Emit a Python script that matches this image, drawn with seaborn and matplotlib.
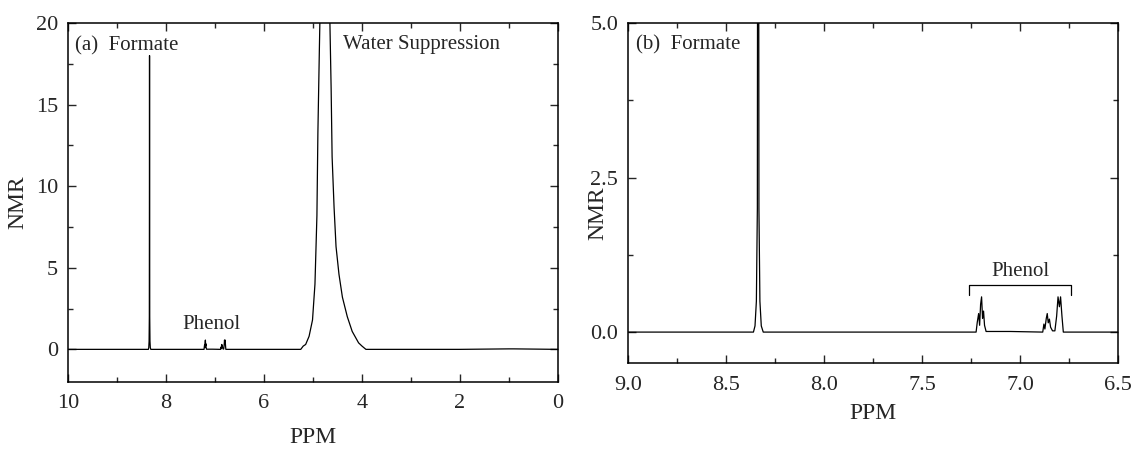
import matplotlib
matplotlib.use("Agg")
import matplotlib.pyplot as plt
import seaborn as sns
import pandas as pd
from matplotlib.ticker import MultipleLocator

# 1H NMR spectrum (ppm, intensity)
ppm = [10.0, 8.40, 8.36, 8.352, 8.345, 8.340, 8.336, 8.332, 8.327, 8.320, 8.31,
       7.40, 7.224, 7.218, 7.211, 7.206, 7.201, 7.196, 7.191, 7.186, 7.181, 7.173,
       7.05, 6.884, 6.878, 6.873, 6.866, 6.861, 6.856, 6.850, 6.844, 6.834, 6.822,
       6.813, 6.806, 6.799, 6.793, 6.786, 6.779, 6.60,
       5.25, 5.20, 5.15, 5.08, 5.01, 4.96, 4.92, 4.90, 4.87, 4.86, 4.76,
       4.655, 4.63, 4.61, 4.57, 4.53, 4.47, 4.40, 4.30, 4.20, 4.07, 4.00, 3.92,
       2.0, 1.0, 0.9, 0.0]
intensity = [0.0, 0.0, 0.0, 0.1, 0.5, 2.0, 18.0, 2.0, 0.5, 0.1, 0.0,
             0.0, 0.0, 0.16, 0.30, 0.11, 0.45, 0.57, 0.22, 0.34, 0.11, 0.01,
             0.01, 0.0, 0.13, 0.05, 0.22, 0.30, 0.15, 0.21, 0.08, 0.02, 0.02,
             0.26, 0.57, 0.41, 0.57, 0.26, 0.0, 0.0,
             0.0, 0.2, 0.3, 0.8, 1.8, 4.0, 8.2, 13.3, 18.4, 20.0, 45.0,
             20.0, 16.0, 11.8, 8.7, 6.3, 4.6, 3.2, 2.0, 1.1, 0.4, 0.2, 0.0,
             0.0, 0.03, 0.03, 0.0]

phenol_span = [7.26, 6.74]    # bracket ends in panel (b)
phenol_levels = [0.76, 0.60]  # bracket top, bracket tip

spec = pd.DataFrame({"ppm": ppm, "nmr": intensity})

sns.set_style("ticks")
plt.rcParams["font.family"] = ["Liberation Serif", "DejaVu Serif"]
plt.rcParams["xtick.direction"] = "in"
plt.rcParams["ytick.direction"] = "in"

fig = plt.figure(figsize=(11.32, 4.58), dpi=100)
W, H = 1132, 458
ax1 = fig.add_axes([68 / W, 1 - 382 / H, 490 / W, 359 / H])
ax2 = fig.add_axes([628 / W, 1 - 363 / H, 490 / W, 340 / H])

for ax in (ax1, ax2):
    sns.lineplot(data=spec, x="ppm", y="nmr", ax=ax, color="black",
                 linewidth=0.9, estimator=None, sort=False)
    ax.set_ylabel("NMR", fontsize=17)
    ax.tick_params(which="both", direction="in", top=True, right=True,
                   labelsize=16, width=1.0)
    ax.tick_params(which="major", length=6)
    ax.tick_params(which="minor", length=3.5)
    ax.tick_params(axis="x", which="major", pad=9)
    ax.tick_params(axis="y", which="major", pad=7)
    for s in ax.spines.values():
        s.set_linewidth(1.1)
        s.set_color("black")

# panel (a)
ax1.set_xlabel("PPM", fontsize=17, labelpad=10)
ax1.set_xlim(10, 0)
ax1.set_ylim(-2, 20)
ax1.xaxis.set_major_locator(MultipleLocator(2))
ax1.xaxis.set_minor_locator(MultipleLocator(1))
ax1.yaxis.set_major_locator(MultipleLocator(5))
ax1.yaxis.set_minor_locator(MultipleLocator(2.5))
ax1.yaxis.set_label_coords(-0.08, 0.5)
ax1.text(0.015, 0.937, "(a)  Formate", transform=ax1.transAxes,
         fontsize=15, va="center", ha="left")
ax1.text(4.39, 18.7, "Water Suppression", fontsize=15, va="center", ha="left")
ax1.text(7.07, 1.55, "Phenol", fontsize=15, va="center", ha="center")

# panel (b)
ax2.set_xlabel("PPM", fontsize=17, labelpad=6)
ax2.set_xlim(9.0, 6.5)
ax2.set_ylim(-0.5, 5.0)
ax2.xaxis.set_major_locator(MultipleLocator(0.5))
ax2.xaxis.set_minor_locator(MultipleLocator(0.25))
ax2.yaxis.set_major_locator(MultipleLocator(2.5))
ax2.yaxis.set_minor_locator(MultipleLocator(1.25))
ax2.xaxis.set_major_formatter(plt.FormatStrFormatter("%.1f"))
ax2.yaxis.set_major_formatter(plt.FormatStrFormatter("%.1f"))
ax2.yaxis.set_label_coords(-0.04, 0.44)
ax2.text(0.016, 0.935, "(b)  Formate", transform=ax2.transAxes,
         fontsize=15, va="center", ha="left")
ax2.plot([phenol_span[0], phenol_span[0], phenol_span[1], phenol_span[1]],
         [phenol_levels[1], phenol_levels[0], phenol_levels[0], phenol_levels[1]],
         color="black", linewidth=0.9)
ax2.text(sum(phenol_span) / 2, phenol_levels[0] + 0.06, "Phenol", fontsize=15,
         va="bottom", ha="center")

fig.savefig("out.png", dpi=100)
